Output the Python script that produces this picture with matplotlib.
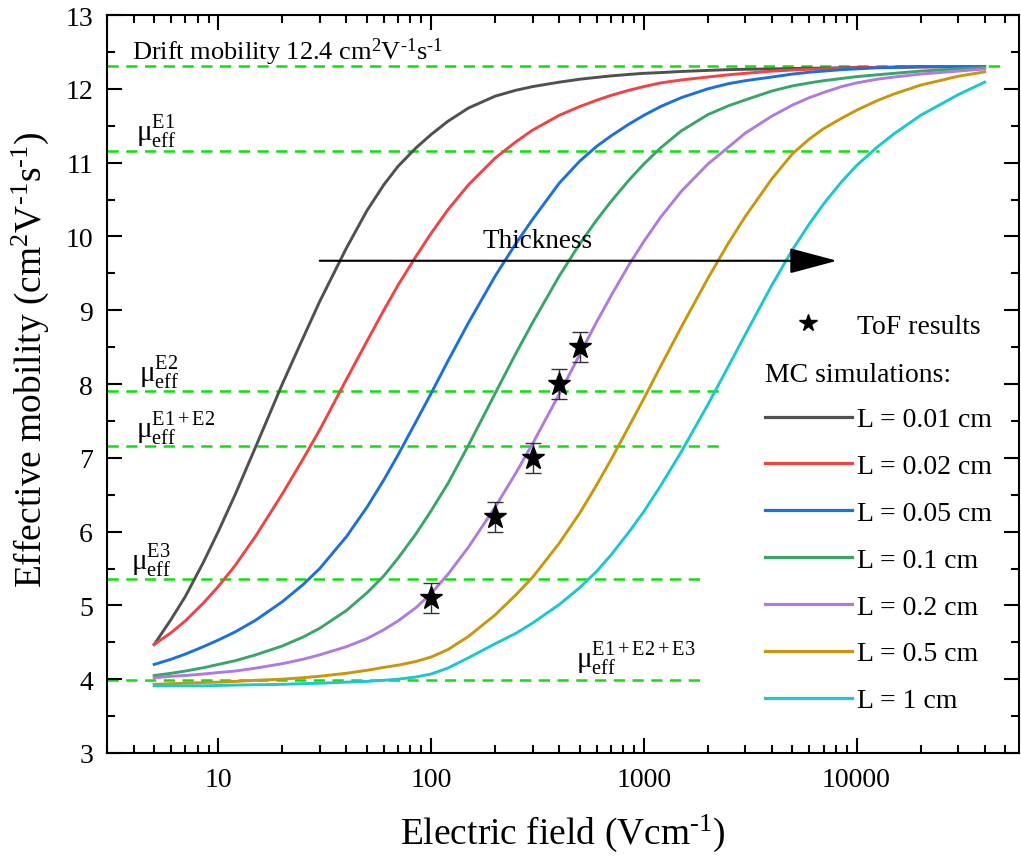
import numpy as np
import matplotlib
matplotlib.use('Agg')
import matplotlib.pyplot as plt
from matplotlib.lines import Line2D
from matplotlib.ticker import AutoMinorLocator, LogLocator, NullFormatter

plt.rcParams['font.family'] = ['Liberation Serif', 'DejaVu Serif']
plt.rcParams['mathtext.fontset'] = 'custom'
plt.rcParams['mathtext.rm'] = 'Liberation Serif'
plt.rcParams['mathtext.it'] = 'Liberation Serif:italic'
plt.rcParams['mathtext.bf'] = 'Liberation Serif:bold'

# electric field grid (V/cm) and MC mobility curves
field = [5, 6, 7, 8.5, 10, 12, 15, 20, 25, 30, 40, 50, 60, 70, 85, 100, 120, 150,
         200, 250, 300, 400, 500, 600, 700, 850, 1000, 1200, 1500, 2000, 2500, 3000,
         4000, 5000, 6000, 7000, 8500, 10000, 12500, 15000, 20000, 30000, 40000]
mu_001 = [4.47, 4.81, 5.12, 5.58, 6.0, 6.5, 7.15, 8.0, 8.62, 9.12, 9.84, 10.35, 10.7,
          10.95, 11.2, 11.38, 11.56, 11.74, 11.9, 11.98, 12.03, 12.09, 12.13, 12.155,
          12.175, 12.195, 12.21, 12.22, 12.235, 12.25, 12.26, 12.265, 12.27, 12.275,
          12.28, 12.28, 12.285, 12.29, 12.29, 12.295, 12.3, 12.3, 12.3]
mu_002 = [4.47, 4.63, 4.79, 5.03, 5.255, 5.54, 5.94, 6.51, 6.98, 7.38, 8.06, 8.58, 9.0,
          9.34, 9.73, 10.04, 10.36, 10.7, 11.06, 11.28, 11.44, 11.64, 11.76, 11.845,
          11.91, 11.98, 12.03, 12.08, 12.12, 12.16, 12.19, 12.21, 12.24, 12.255, 12.265,
          12.27, 12.28, 12.285, 12.29, 12.29, 12.295, 12.3, 12.3]
mu_005 = [4.2, 4.27, 4.34, 4.44, 4.53, 4.64, 4.8, 5.05, 5.28, 5.5, 5.93, 6.33, 6.7,
          7.04, 7.49, 7.87, 8.31, 8.83, 9.46, 9.9, 10.23, 10.72, 11.02, 11.22, 11.36,
          11.52, 11.64, 11.76, 11.88, 12.0, 12.07, 12.11, 12.16, 12.2, 12.225, 12.24,
          12.26, 12.27, 12.285, 12.29, 12.3, 12.3, 12.3]
mu_01 = [4.05, 4.08, 4.11, 4.155, 4.2, 4.25, 4.33, 4.45, 4.57, 4.69, 4.93, 5.17, 5.4,
         5.64, 5.97, 6.28, 6.65, 7.17, 7.87, 8.41, 8.83, 9.46, 9.9, 10.22, 10.47, 10.76,
         10.98, 11.2, 11.43, 11.65, 11.77, 11.85, 11.97, 12.04, 12.08, 12.11, 12.14,
         12.165, 12.19, 12.21, 12.24, 12.27, 12.29]
mu_02 = [4.02, 4.04, 4.05, 4.07, 4.09, 4.11, 4.15, 4.21, 4.27, 4.33, 4.44, 4.55, 4.67,
         4.79, 4.97, 5.16, 5.42, 5.79, 6.33, 6.79, 7.19, 7.86, 8.4, 8.84, 9.19, 9.61,
         9.93, 10.26, 10.61, 10.98, 11.21, 11.4, 11.63, 11.78, 11.88, 11.95, 12.03,
         12.08, 12.13, 12.16, 12.2, 12.24, 12.27]
mu_05 = [3.93, 3.94, 3.945, 3.955, 3.96, 3.97, 3.985, 4.0, 4.02, 4.04, 4.08, 4.12, 4.16,
         4.19, 4.24, 4.3, 4.4, 4.58, 4.87, 5.14, 5.38, 5.84, 6.25, 6.63, 6.97, 7.42,
         7.8, 8.24, 8.77, 9.43, 9.91, 10.27, 10.78, 11.12, 11.32, 11.46, 11.6, 11.71,
         11.84, 11.93, 12.05, 12.17, 12.23]
mu_1 = [3.91, 3.91, 3.91, 3.91, 3.915, 3.92, 3.925, 3.93, 3.94, 3.945, 3.96, 3.97,
        3.985, 4.0, 4.03, 4.07, 4.15, 4.29, 4.48, 4.62, 4.76, 5.01, 5.24, 5.46, 5.68,
        5.99, 6.27, 6.62, 7.08, 7.72, 8.24, 8.67, 9.34, 9.82, 10.17, 10.44, 10.74,
        10.96, 11.21, 11.39, 11.64, 11.92, 12.09]

curves = [mu_001, mu_002, mu_005, mu_01, mu_02, mu_05, mu_1]
labels = ['L = 0.01 cm', 'L = 0.02 cm', 'L = 0.05 cm', 'L = 0.1 cm',
          'L = 0.2 cm', 'L = 0.5 cm', 'L = 1 cm']
colors = ['#505050', '#F04343', '#1D6FDB', '#3AA56A', '#B07BE0', '#C9960C', '#1DC8CC']

# ToF measurements
tof_field = [100, 200, 300, 400, 500]
tof_mu = [5.1, 6.2, 7.0, 8.0, 8.5]
tof_err = [0.2, 0.2, 0.2, 0.2, 0.2]

# reference levels (value, right end of dashed line)
ref_names = ['drift', 'E1', 'E2', 'E1+E2', 'E3', 'E1+E2+E3']
ref_mu = [12.31, 11.16, 7.90, 7.16, 5.36, 3.985]
ref_end = [50000, 12800, 2350, 2350, 1950, 1950]

fig = plt.figure(figsize=(10.21, 8.62), dpi=100)
ax = fig.add_axes([0.1048, 0.1253, 0.8932, 0.8561])

green = '#11DD11'
for y, xe in zip(ref_mu, ref_end):
    ax.plot([3, xe], [y, y], color=green, lw=1.8, dashes=(4.5, 3), zorder=1)

for mu, lab, c in zip(curves, labels, colors):
    ax.plot(field, mu, color=c, lw=2.1, label=lab, zorder=2)

ax.errorbar(tof_field, tof_mu, yerr=tof_err, fmt='none', ecolor='#333333',
            elinewidth=1.0, capsize=6, capthick=1.0, zorder=3)
ax.plot(tof_field, tof_mu, linestyle='none', marker='*', color='black',
        markersize=17, zorder=4)

# annotations
ax.text(3.94, 12.41, 'Drift mobility 12.4 cm$^{2}$V$^{\\text{-}1}$s$^{\\text{-}1}$',
        fontsize=19, va='baseline', ha='left')
mu_fs = 21
ax.text(4.1, 11.30, 'μ$_{\\mathrm{eff}}^{\\mathrm{E1}}$', fontsize=mu_fs, va='baseline')
ax.text(4.25, 8.03, 'μ$_{\\mathrm{eff}}^{\\mathrm{E2}}$', fontsize=mu_fs, va='baseline')
ax.text(4.1, 7.28, 'μ$_{\\mathrm{eff}}^{\\mathrm{E1+E2}}$', fontsize=mu_fs, va='baseline')
ax.text(3.89, 5.49, 'μ$_{\\mathrm{eff}}^{\\mathrm{E3}}$', fontsize=mu_fs, va='baseline')
ax.text(481, 4.16, 'μ$_{\\mathrm{eff}}^{\\mathrm{E1+E2+E3}}$', fontsize=mu_fs, va='baseline')

ax.annotate('', xy=(8100, 9.67), xytext=(30, 9.67),
            arrowprops=dict(arrowstyle='-|>,head_length=1.5,head_width=0.4',
                            color='black', lw=1.5, shrinkA=0, shrinkB=0,
                            mutation_scale=20))
ax.text(174, 9.86, 'Thickness', fontsize=19.5, va='baseline', ha='left')

# legend
handles = [Line2D([], [], linestyle='none', marker='*', color='black', markersize=13),
           Line2D([], [], linestyle='none')]
handles += [Line2D([], [], color=c, lw=2.3) for c in colors]
leg_labels = ['ToF results', ''] + labels
ax.legend(handles, leg_labels, loc='upper left', bbox_to_anchor=(0.7215, 0.596),
          frameon=False, fontsize=20, handlelength=3.13, handletextpad=0.2,
          labelspacing=0.77, borderpad=0, borderaxespad=0)
ax.text(3730, 8.13, 'MC simulations:', fontsize=20, va='center', ha='left')

ax.set_xscale('log')
ax.set_xlim(3, 58000)
ax.set_ylim(3, 13)
ax.set_xticks([10, 100, 1000, 10000])
ax.set_xticklabels(['10', '100', '1000', '10000'])
ax.xaxis.set_minor_locator(LogLocator(base=10, subs=np.arange(2, 10)))
ax.xaxis.set_minor_formatter(NullFormatter())
ax.set_yticks(range(3, 14))
ax.yaxis.set_minor_locator(AutoMinorLocator(2))
ax.tick_params(which='both', direction='in', top=True, right=True, width=1.5,
               labelsize=20)
ax.tick_params(which='major', length=11)
ax.tick_params(which='minor', length=6)
ax.tick_params(axis='y', pad=10)
ax.tick_params(axis='x', pad=10)
for s in ax.spines.values():
    s.set_linewidth(1.5)

ax.set_xlabel('Electric field (Vcm$^{\\text{-}1}$)', fontsize=27, labelpad=14)
ax.set_ylabel('Effective mobility (cm$^{2}$V$^{\\text{-}1}$s$^{\\text{-}1}$)',
              fontsize=27)
ax.yaxis.set_label_coords(-0.0614, 0.534)

fig.savefig('out.png', dpi=100)
